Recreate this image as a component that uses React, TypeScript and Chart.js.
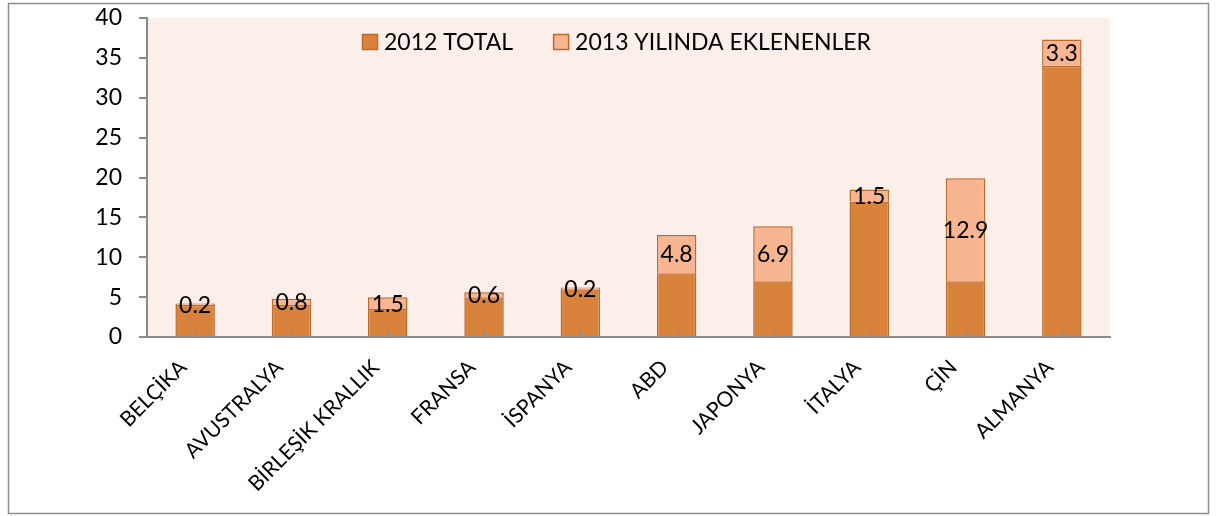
import React, { useEffect, useRef } from "react";
import { Chart, registerables } from "chart.js";

Chart.register(...registerables);

const categories = [
  "BELÇİKA",
  "AVUSTRALYA",
  "BİRLEŞİK KRALLIK",
  "FRANSA",
  "İSPANYA",
  "ABD",
  "JAPONYA",
  "İTALYA",
  "ÇİN",
  "ALMANYA",
];
const total2012 = [4.0, 4.0, 3.5, 5.0, 6.0, 8.0, 7.0, 17.0, 7.0, 34.0];
const added2013 = [0.2, 0.8, 1.5, 0.6, 0.2, 4.8, 6.9, 1.5, 12.9, 3.3];
const seriesNames = ["2012 TOTAL", "2013 YILINDA EKLENENLER"];
const yMin = 0;
const yMax = 40;
const yStep = 5;

const FONT = "Lato";
const DARK = "#D9823B";
const LIGHT = "#F8B592";
const EDGE = "#BA6A2E";
const AXIS = "#8A8A8A";

const bgPlugin = {
  id: "bgPlugin",
  beforeDraw(chart: any) {
    const { ctx, chartArea } = chart;
    ctx.save();
    ctx.fillStyle = "#ffffff";
    ctx.fillRect(0, 0, chart.width, chart.height);
    ctx.fillStyle = "#FCEEE9";
    ctx.fillRect(chartArea.left, chartArea.top, chartArea.right - chartArea.left, chartArea.bottom - chartArea.top);
    ctx.restore();
  },
  afterDraw(chart: any) {
    const { ctx } = chart;
    ctx.save();
    ctx.strokeStyle = "#8E8E8E";
    ctx.lineWidth = 1.5;
    ctx.strokeRect(8.5, 3.5, 1200, 510);
    ctx.restore();
  },
};

const tickMarkPlugin = {
  id: "tickMarkPlugin",
  afterDatasetsDraw(chart: any) {
    const { ctx, chartArea, scales } = chart;
    const xs = scales.x;
    ctx.save();
    ctx.strokeStyle = "rgba(138,138,138,0.9)";
    ctx.lineWidth = 1.5;
    for (let i = 0; i < categories.length; i++) {
      const x = Math.round(xs.getPixelForTick(i)) + 0.5;
      ctx.beginPath();
      ctx.moveTo(x, chartArea.bottom - 5);
      ctx.lineTo(x, chartArea.bottom);
      ctx.stroke();
    }
    ctx.restore();
  },
};

const dataLabelPlugin = {
  id: "dataLabelPlugin",
  afterDatasetsDraw(chart: any) {
    const { ctx } = chart;
    const meta = chart.getDatasetMeta(1);
    const ds = chart.data.datasets[1];
    ctx.save();
    ctx.font = `23px ${FONT}`;
    ctx.fillStyle = "#000000";
    ctx.textAlign = "center";
    ctx.textBaseline = "middle";
    meta.data.forEach((bar: any, i: number) => {
      const v = ds.data[i] as number;
      const y = (bar.y + bar.base) / 2 + 1;
      ctx.fillText(v.toFixed(1), bar.x, y);
    });
    ctx.restore();
  },
};

const legendPlugin = {
  id: "legendPlugin",
  afterDraw(chart: any) {
    const { ctx, chartArea } = chart;
    ctx.save();
    ctx.font = `23px ${FONT}`;
    ctx.textBaseline = "middle";
    ctx.textAlign = "left";
    const y = chartArea.top + 24;
    let x = chartArea.left + 215;
    const fills = [DARK, LIGHT];
    seriesNames.forEach((name, i) => {
      ctx.fillStyle = fills[i];
      ctx.fillRect(x, y - 8, 16, 16);
      ctx.strokeStyle = EDGE;
      ctx.lineWidth = 1.5;
      ctx.strokeRect(x + 0.5, y - 7.5, 15, 15);
      ctx.fillStyle = "#000000";
      ctx.fillText(name, x + 22, y + 1);
      x += 22 + ctx.measureText(name).width + 40;
    });
    ctx.restore();
  },
};

export default function App() {
  const ref = useRef<HTMLCanvasElement | null>(null);

  useEffect(() => {
    document.body.style.margin = "0";
    if (!ref.current) return;
    const chart = new Chart(ref.current, {
      type: "bar",
      data: {
        labels: categories,
        datasets: [
          {
            label: seriesNames[0],
            data: total2012,
            backgroundColor: DARK,
            borderColor: EDGE,
            borderWidth: 1.5,
            categoryPercentage: 1,
            barPercentage: 0.41,
          },
          {
            label: seriesNames[1],
            data: added2013,
            backgroundColor: LIGHT,
            borderColor: EDGE,
            borderWidth: 1.5,
            categoryPercentage: 1,
            barPercentage: 0.41,
          },
        ],
      },
      options: {
        responsive: false,
        animation: false,
        devicePixelRatio: 1,
        layout: { padding: { left: 0, top: 18, right: 108, bottom: 0 } },
        plugins: {
          legend: { display: false },
          tooltip: { enabled: false },
        },
        scales: {
          x: {
            stacked: true,
            grid: { display: false },
            border: { display: true, color: AXIS, width: 2 },
            ticks: {
              maxRotation: 45,
              minRotation: 45,
              autoSkip: false,
              padding: 10,
              labelOffset: -12,
              color: "#000000",
              font: { family: FONT, size: 21 },
            },
            afterFit(scale: any) {
              scale.height = 179;
              scale.paddingLeft = 0;
              scale.paddingRight = 0;
            },
          },
          y: {
            stacked: true,
            min: yMin,
            max: yMax,
            grid: {
              display: true,
              drawOnChartArea: false,
              drawTicks: true,
              tickLength: 8,
              color: AXIS,
              lineWidth: 2,
            },
            border: { display: true, color: AXIS, width: 2 },
            ticks: {
              stepSize: yStep,
              padding: 17,
              color: "#000000",
              font: { family: FONT, size: 23 },
            },
            afterFit(scale: any) {
              scale.width = 147;
              scale.paddingTop = 0;
              scale.paddingBottom = 0;
            },
          },
        },
      },
      plugins: [bgPlugin, tickMarkPlugin, dataLabelPlugin, legendPlugin],
    });
    return () => chart.destroy();
  }, []);

  return (
    <canvas
      ref={ref}
      width={1218}
      height={516}
      style={{ display: "block", width: "1218px", height: "516px" }}
    />
  );
}
